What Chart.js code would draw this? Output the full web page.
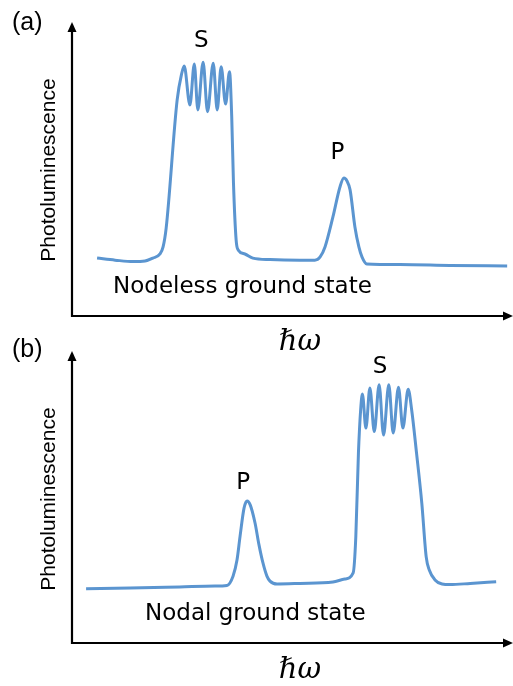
<!DOCTYPE html>
<html>
<head>
<meta charset="utf-8">
<script src="https://cdn.jsdelivr.net/npm/chart.js@4.4.1/dist/chart.umd.min.js"></script>
<style>
  html, body { margin: 0; padding: 0; background: #fff; }
  #wrap { position: relative; width: 513px; height: 686px; }
  canvas { position: absolute; left: 0; }
  #chartA { top: 0; }
  #chartB { top: 330px; }
</style>
</head>
<body>
<div id="wrap">
  <canvas id="chartA" width="513" height="360"></canvas>
  <canvas id="chartB" width="513" height="356"></canvas>
</div>
<script>
// Photon energy (arb. units, 0 = y axis, 100 = arrow tip) and PL intensity (arb. units)
const energyA = [5.7, 9.8, 13.9, 16.6, 18.4, 20.0, 20.7, 21.4, 23.9, 24.9,
  25.5, 26.8, 27.8, 28.6, 29.8, 30.8, 32.1, 33.0, 33.9, 34.9, 35.8,
  36.3, 36.7, 37.3, 37.8, 39.3, 41.1, 45.0, 51.8, 55.2, 56.4, 57.5, 59.3, 60.9,
  61.8, 62.5, 63.2, 64.3, 65.2, 65.9, 67.0, 74.5, 85.9, 98.9];
const intensityA = [19.7, 19.0, 18.5, 18.7, 19.7, 21.1, 23.5, 29.9, 73.5, 82.3,
  85.0, 71.8, 85.7, 70.1, 86.3, 69.5, 86.0, 70.1, 84.8, 72.1, 83.1,
  67.8, 45.2, 25.9, 22.4, 21.1, 19.7, 19.2, 19.0, 19.0, 20.1, 23.5, 33.7, 43.9,
  46.9, 45.9, 42.9, 30.3, 23.5, 20.1, 17.7, 17.5, 17.2, 17.0];

const energyB = [3.2, 13.2, 24.5, 32.5, 35.2, 36.6, 37.5, 38.2, 39.1, 39.8, 40.5, 41.6,
  42.5, 43.4, 44.3, 45.0, 46.6, 51.8, 59.3, 62.0, 63.9, 64.5, 65.1, 65.6,
  66.0, 66.8, 67.7, 68.7, 69.8, 70.8, 72.0, 73.0, 74.2, 75.2, 76.4,
  77.2, 78.3, 79.5, 80.5, 81.2, 82.5, 84.1, 85.9, 90.5, 96.4];
const intensityB = [18.6, 18.8, 19.2, 19.5, 19.7, 22.9, 28.4, 36.6, 46.2, 48.6, 47.3, 41.1,
  33.6, 27.4, 22.9, 21.2, 20.2, 20.4, 20.9, 21.9, 24.0, 36.3, 65.1, 79.8,
  85.3, 73.6, 87.3, 72.4, 88.4, 71.2, 88.4, 71.9, 87.6, 73.6, 86.9,
  79.8, 65.1, 47.9, 29.5, 25.0, 21.6, 20.2, 20.0, 20.4, 21.0];

// Peak labels anchored in data units (x, baseline y)
const peakLabelsA = [["S", 29.4, 91.5], ["P", 60.3, 53.4]];
const peakLabelsB = [["S", 70.0, 92.6], ["P", 38.9, 52.7]];

const LINE_COLOR = "#5b95d0";

/**
 * Axes with arrowheads plus all panel text
 */
function decorPlugin(cfg) {
  return {
    id: "decor",
    afterDraw(chart) {
      const { ctx, chartArea } = chart;
      const L = chartArea.left, T = chartArea.top, B = chartArea.bottom, R = chart.width;
      const xs = chart.scales.x, ys = chart.scales.y;

      ctx.save();
      ctx.strokeStyle = "#000";
      ctx.fillStyle = "#000";
      ctx.lineWidth = 2.2;

      // y axis
      ctx.beginPath();
      ctx.moveTo(L, B + 1);
      ctx.lineTo(L, T + 8);
      ctx.stroke();
      ctx.beginPath();
      ctx.moveTo(L, T);
      ctx.lineTo(L - 4.5, T + 10);
      ctx.lineTo(L + 4.5, T + 10);
      ctx.closePath();
      ctx.fill();

      // x axis
      ctx.beginPath();
      ctx.moveTo(L - 1, B);
      ctx.lineTo(R - 8, B);
      ctx.stroke();
      ctx.beginPath();
      ctx.moveTo(R, B);
      ctx.lineTo(R - 10, B - 4.5);
      ctx.lineTo(R - 10, B + 4.5);
      ctx.closePath();
      ctx.fill();

      // panel tag
      ctx.textAlign = "left";
      ctx.textBaseline = "alphabetic";
      ctx.font = "25px 'Liberation Sans', Arial, sans-serif";
      ctx.fillText(cfg.tag, 12, cfg.tagY);

      // y title
      ctx.save();
      ctx.translate(55, cfg.yTitleY);
      ctx.rotate(-Math.PI / 2);
      ctx.textAlign = "center";
      ctx.font = "21px 'Liberation Sans', Arial, sans-serif";
      ctx.fillText("Photoluminescence", 0, 0);
      ctx.restore();

      // x title
      ctx.textAlign = "center";
      ctx.font = "italic 29px 'DejaVu Serif', serif";
      ctx.fillText("\u210F\u03C9", 300, cfg.xTitleY);

      // ground state caption
      ctx.textAlign = "left";
      ctx.font = "23px 'DejaVu Sans', sans-serif";
      ctx.fillText(cfg.caption, cfg.captionX, cfg.captionY);

      // peak labels
      ctx.textAlign = "center";
      cfg.peaks.forEach(([txt, x, y]) => {
        ctx.fillText(txt, xs.getPixelForValue(x), ys.getPixelForValue(y));
      });
      ctx.restore();
    }
  };
}

function buildPanel(id, energy, intensity, padding, cfg) {
  const points = energy.map((e, i) => ({ x: e, y: intensity[i] }));
  return new Chart(document.getElementById(id), {
    type: "line",
    data: {
      datasets: [{
        data: points,
        borderColor: LINE_COLOR,
        borderWidth: 3,
        pointRadius: 0,
        fill: false,
        cubicInterpolationMode: "monotone"
      }]
    },
    options: {
      responsive: false,
      animation: false,
      devicePixelRatio: 1,
      layout: { padding },
      plugins: { legend: { display: false }, tooltip: { enabled: false } },
      scales: {
        x: { type: "linear", min: 0, max: 100, display: false },
        y: { min: 0, max: 100, display: false }
      }
    },
    plugins: [decorPlugin(cfg)]
  });
}

buildPanel("chartA", energyA, intensityA,
  { left: 72, right: 1, top: 22, bottom: 44 },
  { tag: "(a)", tagY: 30, yTitleY: 170, xTitleY: 350,
    caption: "Nodeless ground state", captionX: 113, captionY: 293, peaks: peakLabelsA });

buildPanel("chartB", energyB, intensityB,
  { left: 72, right: 1, top: 21, bottom: 43 },
  { tag: "(b)", tagY: 27, yTitleY: 169, xTitleY: 348,
    caption: "Nodal ground state", captionX: 145, captionY: 290, peaks: peakLabelsB });
</script>
</body>
</html>
